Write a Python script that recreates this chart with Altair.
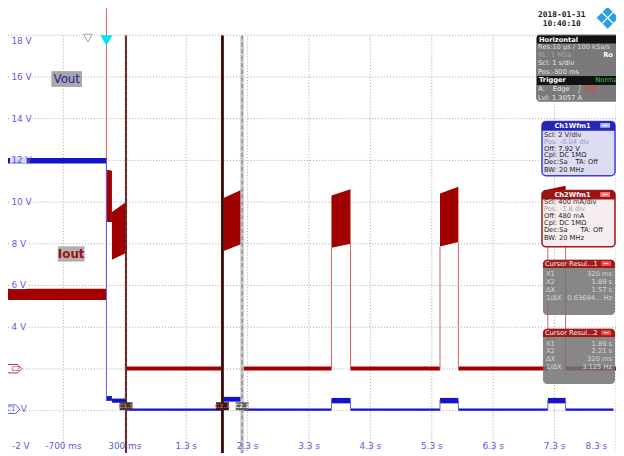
import altair as alt
import pandas as pd

# ---------------- values ----------------
# time grid (s) and bottom labels
x_grid = [-0.7, 0.3, 1.3, 2.3, 3.3, 4.3, 5.3, 6.3, 7.3, 8.3]
x_labels = ["-700 ms", "300 ms", "1.3 s", "2.3 s", "3.3 s", "4.3 s", "5.3 s", "6.3 s", "7.3 s", "8.3 s"]
# voltage grid (Ch1 scale, V) and left labels
y_grid = [18, 16, 14, 12, 10, 8, 6, 4, 2, 0]
y_label_vals = [18, 16, 14, 12, 10, 8, 6, 4]
y_labels = ["18 V", "16 V", "14 V", "12 V", "10 V", "8 V", "6 V", "4 V"]

# Vout (Ch1) envelope: segment, time (s), low / high (V)
vout_seg = ["pre", "pre", "d1", "d1", "d2", "d2", "b1", "b1", "k1", "k1", "b2", "b2",
            "k2", "k2", "b3", "b3", "k3", "k3", "b4", "b4", "k4", "k4", "b5", "b5"]
vout_t = [-1.7, 0.0, 0.0, 0.09, 0.09, 0.32, 0.32, 1.89, 1.89, 2.21, 2.21, 3.666,
          3.666, 3.976, 3.976, 5.434, 5.434, 5.733, 5.733, 7.191, 7.191, 7.48, 7.48, 8.26]
vout_lo = [11.85, 11.85, 0.47, 0.47, 0.38, 0.38, 0.0, 0.0, 0.43, 0.43, 0.0, 0.0,
           0.35, 0.35, 0.0, 0.0, 0.35, 0.35, 0.0, 0.0, 0.35, 0.35, 0.0, 0.0]
vout_hi = [12.12, 12.12, 0.70, 0.70, 0.58, 0.58, 0.10, 0.10, 0.66, 0.66, 0.10, 0.10,
           0.61, 0.61, 0.10, 0.10, 0.61, 0.61, 0.10, 0.10, 0.61, 0.61, 0.10, 0.10]
# Vout vertical transitions
vedge_t = [0.0, 1.89, 2.21, 3.666, 3.976, 5.434, 5.733, 7.191, 7.48]
vedge_lo = [0.47, 0.05, 0.05, 0.05, 0.05, 0.05, 0.05, 0.05, 0.05]
vedge_hi = [11.85, 0.5, 0.5, 0.5, 0.5, 0.5, 0.5, 0.5, 0.5]

# Iout (Ch2) envelope, drawn in screen volts of the Ch1 grid
iout_seg = ["pre", "pre", "a1", "a1", "a2", "a2", "b1", "b1", "p1", "p1", "b2", "b2",
            "p2", "p2", "b3", "b3", "p3", "p3", "b4", "b4", "p4", "p4", "b5", "b5"]
iout_t = [-1.7, 0.0, 0.01, 0.09, 0.09, 0.32, 0.32, 1.89, 1.89, 2.21, 2.21, 3.666,
          3.666, 3.976, 3.976, 5.434, 5.434, 5.733, 5.733, 7.191, 7.191, 7.48, 7.48, 8.3]
iout_lo = [5.30, 5.30, 9.04, 9.04, 7.24, 7.56, 1.93, 1.93, 7.63, 8.00, 1.93, 1.93,
           7.81, 8.00, 1.93, 1.93, 7.87, 8.09, 1.93, 1.93, 7.90, 8.08, 1.93, 1.93]
iout_hi = [5.85, 5.85, 11.55, 11.50, 9.53, 10.01, 2.12, 2.12, 10.17, 10.60, 2.12, 2.12,
           10.32, 10.62, 2.12, 2.12, 10.41, 10.74, 2.12, 2.12, 10.60, 10.78, 2.12, 2.12]
iedge_t = [0.0, 0.32, 1.89, 2.21, 3.666, 3.976, 5.434, 5.733, 7.191, 7.48]
iedge_lo = [5.85, 2.0, 2.0, 2.0, 2.0, 2.0, 2.0, 2.0, 2.0, 2.0]
iedge_hi = [19.5, 7.56, 7.63, 8.0, 7.81, 8.0, 7.87, 8.09, 7.9, 8.08]

# cursors (s)
cur_t = [0.32, 1.89, 2.21]
cur_names = ["C1.1", "C2.1", "C2.2"]
trigger_t = [0.0]
hpos_t = [-0.3]

# info panels
date_lines = ["2018-01-31", "10:40:10"]
horiz_rows = ["Res:10 µs / 100 kSa/s", "RL: 1 MSa", "Scl: 1 s/div", "Pos:-300 ms"]
ch1_rows = ["Scl:  2 V/div", "Pos: -0.04 div", "Off:  7.92 V", "Cpl: DC 1MΩ", "Dec:Sa", "BW: 20 MHz"]
ch2_rows = ["Scl: 400 mA/div", "Pos: -1.8 div", "Off: 480 mA", "Cpl: DC 1MΩ", "Dec:Sa", "BW: 20 MHz"]
cur_keys = ["X1", "X2", "ΔX", "1/ΔX"]
cur1_vals = ["320 ms", "1.89 s", "1.57 s", "0.63694... Hz"]
cur2_vals = ["1.89 s", "2.21 s", "320 ms", "3.125 Hz"]

# ---------------- chart ----------------
W, H = 616, 448
xs = alt.Scale(domain=[-1.603, 8.301], nice=False, zero=False)
ys = alt.Scale(domain=[-2.035, 19.167], nice=False, zero=False)
IOUT = "#a00000"
VOUT = "#1414c6"
LAB = "#5c5ce0"
FS = 6.8


def X(f):
    return alt.X(f, type="quantitative", scale=xs, axis=None)


def Y(f):
    return alt.Y(f, type="quantitative", scale=ys, axis=None)


def P(v):
    return v - 8


one = pd.DataFrame({"k": [0]})


def rect(x0, y0, x1, y1, **kw):
    return alt.Chart(one).mark_rect(**kw).encode(
        x=alt.value(P(x0)), x2=alt.value(P(x1)), y=alt.value(P(y0)), y2=alt.value(P(y1)))


def text(x, y, s, color, size=FS, bold=False, align="left", font="DejaVu Sans"):
    return alt.Chart(one).mark_text(
        text=s, color=color, fontSize=size, fontWeight="bold" if bold else "normal",
        align=align, baseline="middle", font=font).encode(x=alt.value(P(x)), y=alt.value(P(y)))


L = []
# grid
L.append(alt.Chart(pd.DataFrame({"t": x_grid})).mark_rule(
    color="#a6a6a6", strokeWidth=1, strokeDash=[1, 2]).encode(
    x=X("t"), y=alt.value(P(33)), y2=alt.value(H)))
L.append(alt.Chart(pd.DataFrame({"v": y_grid})).mark_rule(
    color="#a6a6a6", strokeWidth=1, strokeDash=[1, 2]).encode(
    y=Y("v"), x=alt.value(0), x2=alt.value(W)))

# Iout
df_i = pd.DataFrame({"seg": iout_seg, "t": iout_t, "lo": iout_lo, "hi": iout_hi})
L.append(alt.Chart(df_i).mark_area(color=IOUT, interpolate="linear").encode(
    x=X("t"), y=Y("lo"), y2=alt.Y2("hi"), detail="seg:N"))
df_ie = pd.DataFrame({"t": iedge_t, "lo": iedge_lo, "hi": iedge_hi})
L.append(alt.Chart(df_ie).mark_rule(color="#d46060", strokeWidth=1).encode(
    x=X("t"), y=Y("lo"), y2=alt.Y2("hi")))

# Vout
df_v = pd.DataFrame({"seg": vout_seg, "t": vout_t, "lo": vout_lo, "hi": vout_hi})
L.append(alt.Chart(df_v).mark_area(color=VOUT, interpolate="linear").encode(
    x=X("t"), y=Y("lo"), y2=alt.Y2("hi"), detail="seg:N"))
df_ve = pd.DataFrame({"t": vedge_t, "lo": vedge_lo, "hi": vedge_hi})
L.append(alt.Chart(df_ve).mark_rule(color="#5a5af2", strokeWidth=1).encode(
    x=X("t"), y=Y("lo"), y2=alt.Y2("hi")))

# cursor lines
c1 = pd.DataFrame({"t": [cur_t[0]]})
c2 = pd.DataFrame({"t": [cur_t[1]]})
c3 = pd.DataFrame({"t": [cur_t[2]]})
L.append(alt.Chart(c3).mark_rule(color="#c8c8c8", strokeWidth=3.5).encode(
    x=X("t"), y=alt.value(P(33)), y2=alt.value(H)))
L.append(alt.Chart(c3).mark_rule(color="#888888", strokeWidth=1.2, strokeDash=[4, 3]).encode(
    x=X("t"), y=alt.value(P(33)), y2=alt.value(H)))
L.append(alt.Chart(c1).mark_rule(color="#4a2828", strokeWidth=2).encode(
    x=X("t"), y=alt.value(P(33)), y2=alt.value(H)))
L.append(alt.Chart(c1).mark_rule(color="#b83030", strokeWidth=1, strokeDash=[3, 3]).encode(
    x=X("t"), y=alt.value(P(33)), y2=alt.value(H)))
L.append(alt.Chart(c2).mark_rule(color="#6a1c1c", strokeWidth=3).encode(
    x=X("t"), y=alt.value(P(33)), y2=alt.value(H)))
L.append(alt.Chart(c2).mark_rule(color="#1a1010", strokeWidth=1.6).encode(
    x=X("t"), y=alt.value(P(33)), y2=alt.value(H)))

# cursor tags at the bottom
tag_fill = ["#3c3c3c", "#2e1818", "#5e5e5e"]
tag_txt = ["#d07070", "#d05050", "#eeeeee"]
for i in range(3):
    d = pd.DataFrame({"t": [cur_t[i]], "name": [cur_names[i]]})
    L.append(alt.Chart(d).transform_calculate(
        t0="datum.t - 0.105", t1="datum.t + 0.105").mark_rect(fill=tag_fill[i]).encode(
        x=X("t0"), x2=alt.X2("t1"), y=alt.value(P(404.5)), y2=alt.value(P(412.5))))
    L.append(alt.Chart(d).mark_text(color=tag_txt[i], fontSize=6, fontWeight="bold",
                                    font="DejaVu Sans", baseline="middle").encode(
        x=X("t"), y=alt.value(P(408.5)), text="name:N"))

# trigger / position markers at the top
L.append(alt.Chart(pd.DataFrame({"t": hpos_t})).mark_point(
    shape="triangle-down", size=80, filled=True, fill="white", stroke="#a0a0a0",
    strokeWidth=1, opacity=1).encode(x=X("t"), y=alt.value(P(35.5))))
L.append(alt.Chart(pd.DataFrame({"t": trigger_t})).mark_point(
    shape="triangle-down", size=150, filled=True, color="#00e4f4", opacity=1).encode(
    x=X("t"), y=alt.value(P(38))))

# left labels
df_yl = pd.DataFrame({"v": y_label_vals, "lab": y_labels})
L.append(alt.Chart(df_yl).transform_filter("datum.v < 17 && datum.v != 12").transform_calculate(
    v0="datum.v - 0.17", v1="datum.v + 0.17").mark_rect(fill="white").encode(
    x=alt.value(P(10)), x2=alt.value(P(27)), y=Y("v0"), y2=alt.Y2("v1")))
L.append(alt.Chart(df_yl).transform_filter("datum.v == 12").transform_calculate(
    v0="datum.v - 0.15", v1="datum.v + 0.15").mark_rect(fill="#d6d6f6").encode(
    x=alt.value(P(10)), x2=alt.value(P(27)), y=Y("v0"), y2=alt.Y2("v1")))
L.append(alt.Chart(df_yl).transform_filter("datum.v < 17").mark_text(
    align="left", baseline="middle", color=LAB, fontSize=9, font="DejaVu Sans").encode(
    x=alt.value(P(11.5)), y=Y("v"), text="lab:N"))
L.append(alt.Chart(df_yl).transform_filter("datum.v > 17").mark_text(
    align="left", baseline="middle", color=LAB, fontSize=9, font="DejaVu Sans", dy=6).encode(
    x=alt.value(P(11.5)), y=Y("v"), text="lab:N"))
L.append(text(12, 449, "-2 V", LAB, size=9))

# bottom labels
df_xl = pd.DataFrame({"t": x_grid, "lab": x_labels})
L.append(alt.Chart(df_xl).transform_filter("datum.t < 8").mark_text(
    align="center", baseline="middle", color=LAB, fontSize=9, font="DejaVu Sans").encode(
    x=X("t"), y=alt.value(P(449)), text="lab:N"))
L.append(alt.Chart(df_xl).transform_filter("datum.t > 8").mark_text(
    align="right", baseline="middle", color=LAB, fontSize=9, font="DejaVu Sans", dx=-9).encode(
    x=X("t"), y=alt.value(P(449)), text="lab:N"))

# channel markers
L.append(alt.Chart(one).mark_point(
    shape="M-1,-0.45L0.55,-0.45L1,0L0.55,0.45L-1,0.45Z", size=361, filled=True,
    fill="white", stroke="#c03030", strokeWidth=1, opacity=1).encode(
    x=alt.value(P(12.5)), y=alt.value(P(370.5))))
L.append(text(11.5, 370.5, "C2", "#c03030", size=6.5))
L.append(alt.Chart(one).mark_point(
    shape="M-1,-0.5L0.5,-0.5L1,0L0.5,0.5L-1,0.5Z", size=289, filled=True,
    fill="white", stroke="#5050e0", strokeWidth=1, opacity=1).encode(
    x=alt.value(P(11.5)), y=alt.value(P(411.5))))
L.append(text(11, 411.5, "C1", "#5050e0", size=6.5, align="center"))
L.append(text(21, 411.5, "V", LAB, size=9))

# trace name labels
L.append(rect(52, 69, 83, 85, fill="#a8a8a8"))
L.append(text(67.5, 77.5, "Vout", "#1c1ca8", size=12, align="center"))
L.append(rect(58.5, 246.5, 85.5, 262, fill="#b0b0b0"))
L.append(text(72, 254.5, "Iout", "#a01010", size=12, align="center", bold=True))

# date + logo
L.append(text(569, 12, date_lines[0], "#1a1a1a", size=8, bold=True, align="center", font="DejaVu Sans Mono"))
L.append(text(569, 21, date_lines[1], "#1a1a1a", size=8, bold=True, align="center", font="DejaVu Sans Mono"))
for (lx, ly) in [(615.5, 9), (609.5, 15), (621.5, 15), (615.5, 21)]:
    L.append(alt.Chart(one).mark_point(shape="diamond", size=121, filled=True, color="#2a9fe2",
                                       opacity=1, stroke="white", strokeWidth=0.8).encode(
        x=alt.value(P(lx)), y=alt.value(P(ly))))

# Horizontal / Trigger panel
L.append(rect(543, 32, 640, 100, fill="#6c6c6c", opacity=0.9, cornerRadius=4))
L.append(rect(544, 33, 640, 41, fill="#121212"))
L.append(text(546, 37, "Horizontal", "white", bold=True))
hy = [45, 53, 61.3, 69.6]
hc = ["#dcdcdc", "#a6a6a6", "#e8e8e8", "#e8e8e8"]
for i in range(4):
    L.append(text(545, hy[i], horiz_rows[i], hc[i]))
L.append(text(611, 53, "Ro", "white", bold=True))
L.append(rect(544, 74, 640, 83, fill="#121212"))
L.append(text(546, 78.5, "Trigger", "white", bold=True))
L.append(text(603, 78.5, "Normal", "#3cc83c"))
L.append(text(545, 87.5, "A:", "#e8e8e8"))
L.append(text(560, 87.5, "Edge", "#e8e8e8"))
L.append(text(585, 87.5, "∫", "#d0d0d0", size=8))
L.append(text(592, 87.5, "Ch2", "#ff2a2a"))
L.append(text(545, 96, "Lvl: 1.3057 A", "#e8e8e8"))

# Ch1 box
L.append(rect(549, 120, 623, 175, fill="#dcdcf2", stroke="#3c3cd0", strokeWidth=1.5, cornerRadius=4))
L.append(rect(549, 120, 623, 129.5, fill="#2626b4", cornerRadiusTopLeft=4, cornerRadiusTopRight=4))
L.append(text(580, 125, "Ch1Wfm1", "white", bold=True, align="center"))
L.append(rect(608, 121.5, 618, 126.5, fill="#a8b8ff", cornerRadius=1))
L.append(rect(610.5, 123.5, 615.5, 124.5, fill="white"))
c1y = [134, 141, 147.7, 154.5, 161.5, 168.8]
for i in range(6):
    L.append(text(551, c1y[i], ch1_rows[i], "#9898c8" if i == 1 else "#1e1e1e"))
L.append(text(583, c1y[4], "TA: Off", "#1e1e1e"))

# Ch2 box
L.append(rect(549, 190, 623, 247, fill="#f6eeee", stroke="#a01818", strokeWidth=1.5, cornerRadius=4))
L.append(rect(549, 190, 623, 199, fill="#9c1414", cornerRadiusTopLeft=4, cornerRadiusTopRight=4))
L.append(text(580, 194.5, "Ch2Wfm1", "white", bold=True, align="center"))
L.append(rect(608, 191.5, 618, 196.5, fill="#ff7070", cornerRadius=1))
L.append(rect(610.5, 193.5, 615.5, 194.5, fill="white"))
c2y = [201.5, 208.7, 216, 223.2, 230.3, 237.7]
for i in range(6):
    L.append(text(551, c2y[i], ch2_rows[i], "#b89898" if i == 1 else "#1e1e1e"))
L.append(text(588, c2y[4], "TA: Off", "#1e1e1e"))

# cursor result boxes
for (y0, title, vals) in [(260, "Cursor Resul...1", cur1_vals), (330, "Cursor Resul...2", cur2_vals)]:
    L.append(rect(550, y0, 623, y0 + 56, fill="#737373", opacity=0.86, cornerRadius=4))
    L.append(rect(550, y0, 623, y0 + 8.5, fill="#a01c1c", cornerRadiusTopLeft=4, cornerRadiusTopRight=4))
    L.append(text(552, y0 + 4.4, title, "#f4f4f4"))
    L.append(rect(609, y0 + 1.5, 619, y0 + 6.5, fill="#ff4848", cornerRadius=1))
    L.append(rect(611.5, y0 + 3.5, 616.5, y0 + 4.5, fill="white"))
    for j in range(4):
        yy = y0 + 15 + j * 7.9
        L.append(text(553, yy, cur_keys[j], "#d8d8d8"))
        L.append(text(620, yy, vals[j], "#d8d8d8", align="right"))

chart = alt.layer(*L).properties(
    width=W, height=H, padding=0, autosize=alt.AutoSizeParams(type="none")
).configure_view(strokeWidth=0)

chart.save("out.html", embed_options={"renderer": "svg", "actions": False})
